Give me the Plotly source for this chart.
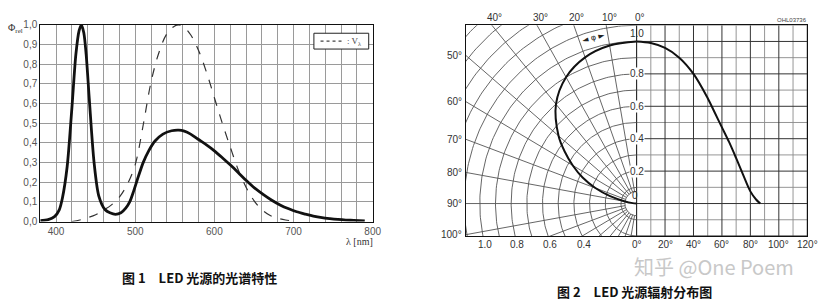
import numpy as np
import plotly.graph_objects as go

W, H = 840, 305

# ---------------- Figure 1 : spectrum ----------------
spec_nm = [380, 390, 398, 404, 408, 414, 420, 425, 429, 432, 435, 438, 442, 448, 454,
           462, 468, 475, 482, 488, 493, 498, 504, 510, 517, 525, 535, 546, 555, 562,
           570, 579, 590, 600, 610, 621, 630, 640, 651, 662, 672, 683, 694, 704, 715,
           725, 736, 746, 756, 766, 776, 790]
spec_rel = [0.005, 0.01, 0.025, 0.06, 0.12, 0.28, 0.58, 0.85, 0.97, 1.0, 0.96, 0.85, 0.62, 0.30, 0.13,
            0.06, 0.045, 0.037, 0.045, 0.068, 0.10, 0.155, 0.23, 0.30, 0.36, 0.41, 0.445, 0.462, 0.465, 0.46,
            0.445, 0.42, 0.39, 0.36, 0.325, 0.285, 0.25, 0.21, 0.17, 0.137, 0.11, 0.085, 0.065, 0.05, 0.038,
            0.028, 0.02, 0.015, 0.011, 0.008, 0.006, 0.003]

vl_nm = [420, 430, 440, 450, 460, 470, 480, 490, 500, 510, 520, 530, 540, 550, 555, 560,
         570, 580, 590, 600, 610, 620, 630, 640, 650, 660, 670, 680, 690, 700]
vl_rel = [0.0, 0.008, 0.02, 0.035, 0.058, 0.085, 0.125, 0.19, 0.29, 0.49, 0.71, 0.86, 0.955, 0.995, 1.0, 0.995,
          0.95, 0.87, 0.76, 0.63, 0.50, 0.38, 0.265, 0.175, 0.107, 0.061, 0.032, 0.017, 0.008, 0.003]

x1_label_vals = [400, 500, 600, 700, 800]
x1_minor_step = 20
y1_vals = [round(0.1 * i, 1) for i in range(11)]
y1_text = [f"{v:.1f}".replace(".", ",") for v in y1_vals]

# ---------------- Figure 2 : radiation pattern ----------------
rad_angle = [0, 10, 20, 30, 40, 50, 55, 60, 65, 70, 75, 80, 84, 87]
rad_intensity = [1.0, 0.99, 0.96, 0.90, 0.80, 0.65, 0.56, 0.47, 0.38, 0.28, 0.175, 0.075, 0.025, 0.0]

ring_r = [round(0.1 * i, 1) for i in range(1, 17)]
spoke_deg = list(range(10, 180, 10))
inner_r = 0.075
top_angle_labels = [40, 30, 20, 10]
left_angle_labels = [50, 60, 70, 80, 90, 100]
bottom_r_labels = [1.0, 0.8, 0.6, 0.4]
bottom_deg_labels = [0, 20, 40, 60, 80, 100, 120]
axis_r_labels = [0.2, 0.4, 0.6, 0.8]
cart_deg_lines = list(range(10, 121, 10))
cart_int_lines = [round(-0.2 + 0.1 * i, 1) for i in range(14)]

X2_RANGE = [-120, 120]
Y2_RANGE = [-0.2, 1.1]
POLAR_HALF = 1.0883
X3_RANGE = [-POLAR_HALF, POLAR_HALF]


def px(x):
    return x / W


def py(y):
    return 1 - y / H


fig = go.Figure()

# ---- figure 1 traces ----
fig.add_trace(go.Scatter(x=vl_nm, y=vl_rel, mode="lines", line=dict(color="#333", width=1.2, dash="dash", shape="spline"),
                         showlegend=False, hoverinfo="skip", xaxis="x", yaxis="y"))
fig.add_trace(go.Scatter(x=spec_nm, y=spec_rel, mode="lines", line=dict(color="#111", width=2.8, shape="spline", smoothing=0.8),
                         showlegend=False, hoverinfo="skip", xaxis="x", yaxis="y"))


def seg(xs, ys, color, width, xa, ya):
    fig.add_trace(go.Scatter(x=xs, y=ys, mode="lines", line=dict(color=color, width=width),
                             showlegend=False, hoverinfo="skip", xaxis=xa, yaxis=ya, connectgaps=False))


# ---- figure 2: cartesian grid (right half) ----
minor_x, minor_y, major_x, major_y = [], [], [], []
for d in cart_deg_lines:
    tx, ty = (major_x, major_y) if d % 20 == 0 else (minor_x, minor_y)
    tx += [d, d, None]
    ty += [Y2_RANGE[0], Y2_RANGE[1], None]
for v in cart_int_lines:
    tx, ty = (major_x, major_y) if round(v * 10) % 2 == 0 else (minor_x, minor_y)
    tx += [0, X2_RANGE[1], None]
    ty += [v, v, None]
seg(minor_x, minor_y, "#8a8a8a", 0.9, "x2", "y2")
seg(major_x, major_y, "#333", 1.0, "x2", "y2")

# ---- figure 2: polar grid (left half) ----
th = np.radians(np.arange(0, 181, 1))
cx, cy = [], []
for r in ring_r:
    cx += list(-r * np.sin(th)) + [None]
    cy += list(r * np.cos(th)) + [None]
cx += list(-inner_r * np.sin(th)) + [None]
cy += list(inner_r * np.cos(th)) + [None]
sx, sy = [], []
for d in spoke_deg:
    t = np.radians(d)
    sx += [-inner_r * np.sin(t), -2.2 * np.sin(t), None]
    sy += [inner_r * np.cos(t), 2.2 * np.cos(t), None]
seg(cx, cy, "#555", 0.9, "x3", "y2")
seg(sx, sy, "#555", 0.9, "x3", "y2")
# 0 deg axis (vertical)
seg([0, 0], Y2_RANGE, "#222", 1.1, "x2", "y2")

# ---- figure 2: curves ----
fig.add_trace(go.Scatter(x=rad_angle, y=rad_intensity, mode="lines",
                         line=dict(color="#111", width=2.0, shape="spline"),
                         showlegend=False, hoverinfo="skip", xaxis="x2", yaxis="y2"))
ang = np.radians(rad_angle)
inten = np.array(rad_intensity)
fig.add_trace(go.Scatter(x=list(-inten * np.sin(ang)), y=list(inten * np.cos(ang)), mode="lines",
                         line=dict(color="#111", width=2.0, shape="spline"),
                         showlegend=False, hoverinfo="skip", xaxis="x3", yaxis="y2"))

ann = []
lab_font = dict(family="Liberation Sans, Arial, sans-serif", size=10, color="#333")

# figure 2 labels
for v in axis_r_labels:
    ann.append(dict(x=0, y=v, xref="x2", yref="y2", text=f"{v:.1f}", showarrow=False,
                    font=lab_font, bgcolor="white", borderpad=0, xanchor="center", yanchor="middle"))
ann.append(dict(x=0, y=1.0, xref="x2", yref="y2", text="1.0", showarrow=False, font=lab_font,
                xanchor="center", yanchor="bottom", yshift=0))
ann.append(dict(x=-1, y=0, xref="x2", yref="y2", text="0", showarrow=False, font=lab_font,
                xanchor="center", yanchor="bottom", yshift=1))
for d in top_angle_labels + [0]:
    xv = -Y2_RANGE[1] * np.tan(np.radians(d))
    ann.append(dict(x=xv, y=Y2_RANGE[1], xref="x3", yref="y2", text=f"{d}°", showarrow=False,
                    font=lab_font, xanchor="center", yanchor="bottom", xshift=3, yshift=0))
for d in left_angle_labels:
    yv = POLAR_HALF / np.tan(np.radians(d)) if d != 90 else 0.0
    ann.append(dict(x=-POLAR_HALF, y=yv, xref="x3", yref="y2", text=f"{d}°", showarrow=False,
                    font=lab_font, xanchor="right", yanchor="middle", xshift=-2))
for r in bottom_r_labels:
    xv = -np.sqrt(r ** 2 - Y2_RANGE[0] ** 2)
    ann.append(dict(x=xv, y=Y2_RANGE[0], xref="x3", yref="y2", text=f"{r:.1f}", showarrow=False,
                    font=lab_font, xanchor="center", yanchor="top", xshift=2, yshift=-1))
for d in bottom_deg_labels:
    ann.append(dict(x=d, y=Y2_RANGE[0], xref="x2", yref="y2", text=f"{d}°", showarrow=False,
                    font=lab_font, xanchor="center", yanchor="top", yshift=-1))
ann.append(dict(x=px(801), y=py(15.5), xref="paper", yref="paper", text="OHL03736", showarrow=False,
                font=dict(family="Liberation Sans, Arial", size=6, color="#444"), xanchor="center", yanchor="middle"))
ann.append(dict(x=-1.06 * np.sin(np.radians(15)), y=1.06 * np.cos(np.radians(15)), xref="x3", yref="y2",
                text="◄ φ ►", showarrow=False, textangle=-15,
                font=dict(family="DejaVu Sans", size=8, color="#222"), xanchor="center", yanchor="middle"))

# figure 1 labels
ann.append(dict(x=px(16), y=py(24), xref="paper", yref="paper", text="Φ<sub>rel</sub>", showarrow=False,
                xanchor="center", yanchor="middle",
                font=dict(family="Liberation Serif, serif", size=10, color="#333")))
ann.append(dict(x=px(363), y=py(245), xref="paper", yref="paper", text="λ [nm]", showarrow=False,
                xanchor="center", yanchor="middle",
                font=dict(family="Liberation Serif, serif", size=10, color="#333")))
# legend box contents
ann.append(dict(x=px(349), y=py(37.5), xref="paper", yref="paper", text=": V<sub>λ</sub>", showarrow=False,
                font=dict(family="Liberation Serif, serif", size=9, color="#444"), xanchor="left", yanchor="middle"))

# captions & watermark
cap_font = dict(family="Noto Sans CJK SC", size=13, color="#111", weight="bold")
ann.append(dict(x=px(202), y=py(283), xref="paper", yref="paper", text="图 1　LED 光源的光谱特性",
                showarrow=False, font=cap_font, xanchor="center", yanchor="middle"))
ann.append(dict(x=px(641), y=py(297), xref="paper", yref="paper", text="图 2　LED 光源辐射分布图",
                showarrow=False, font=cap_font, xanchor="center", yanchor="middle"))
ann.append(dict(x=px(722), y=py(271.5), xref="paper", yref="paper", text="知乎 @One Poem",
                showarrow=False, font=dict(family="Noto Sans CJK SC", size=20, color="#c8c8c8"),
                xanchor="center", yanchor="middle"))

shapes = [
    dict(type="rect", xref="paper", yref="paper", x0=px(317.3), x1=px(372.7), y0=py(45.7), y1=py(29.3),
         line=dict(color="#222", width=1), fillcolor="white", layer="above"),
    dict(type="line", xref="paper", yref="paper", x0=px(324), x1=px(346), y0=py(37.5), y1=py(37.5),
         line=dict(color="#444", width=1.2, dash="dot"), layer="above"),
]

axis_common = dict(showline=True, mirror=True, linecolor="#111", linewidth=1, zeroline=False, ticks="")

fig.update_layout(
    width=W, height=H, margin=dict(l=0, r=0, t=0, b=0),
    paper_bgcolor="white", plot_bgcolor="white",
    showlegend=False,
    xaxis=dict(domain=[px(40.7), px(376.7)], range=[380, 800], anchor="y",
               tickmode="array", tickvals=x1_label_vals, ticktext=[str(v) for v in x1_label_vals],
               showgrid=True, gridcolor="#9a9a9a", gridwidth=1,
               minor=dict(tick0=380, dtick=x1_minor_step, showgrid=True, gridcolor="#9a9a9a", gridwidth=1, ticks=""),
               tickfont=dict(family="Liberation Sans, Arial", size=10, color="#555"), **axis_common),
    yaxis=dict(domain=[py(224.7), py(20.7)], range=[0, 1], anchor="x",
               tickmode="array", tickvals=y1_vals, ticktext=y1_text,
               showgrid=True, gridcolor="#9a9a9a", gridwidth=1,
               tickfont=dict(family="Liberation Sans, Arial", size=10, color="#555"), **axis_common),
    xaxis2=dict(domain=[px(471), px(816)], range=X2_RANGE, anchor="y2", showgrid=False,
                showticklabels=False, **axis_common),
    yaxis2=dict(domain=[py(239.6), py(21)], range=Y2_RANGE, anchor="x2", showgrid=False,
                showticklabels=False, **axis_common),
    xaxis3=dict(overlaying="x2", range=X3_RANGE, anchor="y2", visible=False),
    annotations=ann,
    shapes=shapes,
)

fig.write_html("out.html")
